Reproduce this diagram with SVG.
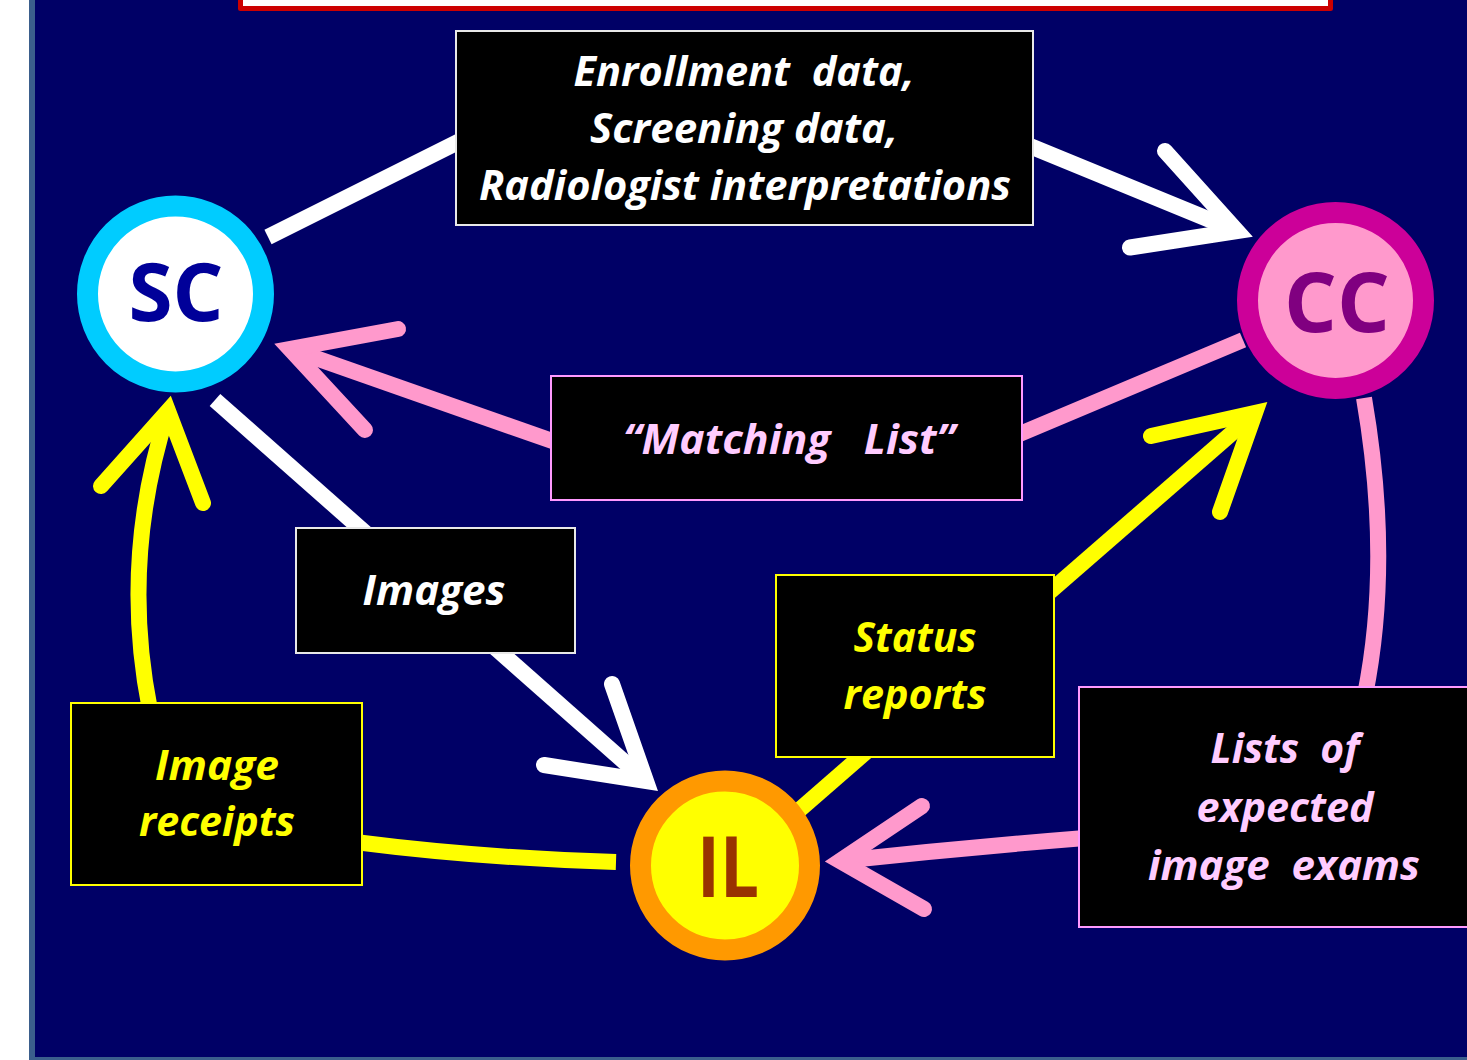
<svg xmlns="http://www.w3.org/2000/svg" width="1467" height="1060" viewBox="0 0 1467 1060">
<style>
.ln{fill:none;stroke-width:16;stroke-linecap:butt}
.hd{fill:none;stroke-width:16;stroke-linecap:round;stroke-linejoin:miter;stroke-miterlimit:10}
.w{stroke:#ffffff}
.p{stroke:#ff99cc}
.y{stroke:#ffff00}
.box{fill:#000000;stroke-width:2}
.lbl{font-family:"Open Sans","Noto Sans","Liberation Sans",sans-serif;font-weight:bold;font-style:italic;font-size:42px;text-anchor:middle}
.node{font-family:"Open Sans","Noto Sans","Liberation Sans",sans-serif;font-weight:bold;text-anchor:middle}
</style>
<rect x="0" y="0" width="1467" height="1060" fill="#ffffff"/>
<rect x="32" y="-10" width="1500" height="1070" fill="#000066" stroke="#3b5e8c" stroke-width="6"/>
<rect x="240.5" y="-20" width="1090" height="28.5" fill="#ffffff" stroke="#cc0000" stroke-width="5" stroke-linejoin="round"/>

<g id="connectors">
  <!-- SC -> CC (white) -->
  <path class="ln w" d="M268,237 L462,140"/>
  <path class="ln w" d="M1025,144 L1237,231"/>
  <polyline class="hd w" points="1165,151 1237,231 1130,247.5"/>
  <!-- CC -> SC (pink, Matching List) -->
  <path class="ln p" d="M1243,340 L1015,436"/>
  <path class="ln p" d="M558,443 L290,349"/>
  <polyline class="hd p" points="398,329 290,349 365,430"/>
  <!-- SC -> IL (white, Images) -->
  <path class="ln w" d="M215,400 L646,781"/>
  <polyline class="hd w" points="612,684 646,781 544,765"/>
  <!-- IL -> CC (yellow, Status reports) -->
  <path class="ln y" d="M797,812 L1255,413"/>
  <polyline class="hd y" points="1151,436 1255,413 1220,512"/>
  <!-- IL -> SC (yellow, Image receipts) -->
  <path class="ln y" d="M616,862 Q480,858 355,842"/>
  <path class="ln y" d="M150,710 Q120,560 168,411"/>
  <polyline class="hd y" points="101,486 168,411 203,503"/>
  <!-- CC -> IL (pink, Lists of expected image exams) -->
  <path class="ln p" d="M1364,398 Q1392,560 1365,695"/>
  <path class="ln p" d="M1085,838 Q960,848 840,861"/>
  <polyline class="hd p" points="922,806 840,861 924,909"/>
</g>

<g id="label-enrollment">
  <rect class="box" x="456" y="31" width="577" height="194" stroke="#e8e8e8"/>
  <text class="lbl" fill="#ffffff" xml:space="preserve"><tspan x="744" y="86" textLength="341" lengthAdjust="spacingAndGlyphs">Enrollment  data,</tspan><tspan x="744" y="143" textLength="308" lengthAdjust="spacingAndGlyphs">Screening data,</tspan><tspan x="745" y="200" textLength="532" lengthAdjust="spacingAndGlyphs">Radiologist interpretations</tspan></text>
</g>

<g id="label-matching">
  <rect class="box" x="551" y="376" width="471" height="124" stroke="#ff99ff"/>
  <text class="lbl" fill="#ffccff" xml:space="preserve"><tspan x="789" y="454" textLength="332" lengthAdjust="spacingAndGlyphs">“Matching   List”</tspan></text>
</g>

<g id="label-images">
  <rect class="box" x="296" y="528" width="279" height="125" stroke="#e8e8e8"/>
  <text class="lbl" fill="#ffffff"><tspan x="434" y="605" textLength="143" lengthAdjust="spacingAndGlyphs">Images</tspan></text>
</g>

<g id="label-status">
  <rect class="box" x="776" y="575" width="278" height="182" stroke="#ffff00"/>
  <text class="lbl" fill="#ffff00"><tspan x="915" y="652" textLength="123" lengthAdjust="spacingAndGlyphs">Status</tspan><tspan x="915" y="709" textLength="143" lengthAdjust="spacingAndGlyphs">reports</tspan></text>
</g>

<g id="label-receipts">
  <rect class="box" x="71" y="703" width="291" height="182" stroke="#ffff00"/>
  <text class="lbl" fill="#ffff00"><tspan x="217" y="780" textLength="124" lengthAdjust="spacingAndGlyphs">Image</tspan><tspan x="217" y="836" textLength="156" lengthAdjust="spacingAndGlyphs">receipts</tspan></text>
</g>

<g id="label-lists">
  <rect class="box" x="1079" y="687" width="400" height="240" stroke="#ff99ff"/>
  <text class="lbl" fill="#ffccff" xml:space="preserve"><tspan x="1285" y="763" textLength="149" lengthAdjust="spacingAndGlyphs">Lists  of</tspan><tspan x="1285" y="822" textLength="177" lengthAdjust="spacingAndGlyphs">expected</tspan><tspan x="1284" y="880" textLength="272" lengthAdjust="spacingAndGlyphs">image  exams</tspan></text>
</g>

<g id="node-sc">
  <circle cx="175.5" cy="294" r="88" fill="#ffffff" stroke="#00ccff" stroke-width="21"/>
  <text class="node" x="176" y="321" font-size="80" fill="#000099">SC</text>
</g>

<g id="node-cc">
  <circle cx="1335.5" cy="300.5" r="88" fill="#ff99cc" stroke="#cc0099" stroke-width="21"/>
  <text class="node" x="1337" y="332" font-size="83" fill="#800080">CC</text>
</g>

<g id="node-il">
  <circle cx="725" cy="865.5" r="84.5" fill="#ffff00" stroke="#ff9900" stroke-width="21"/>
  <text class="node" x="728" y="897" font-size="85" fill="#993300" textLength="62" lengthAdjust="spacingAndGlyphs">IL</text>
</g>
</svg>
